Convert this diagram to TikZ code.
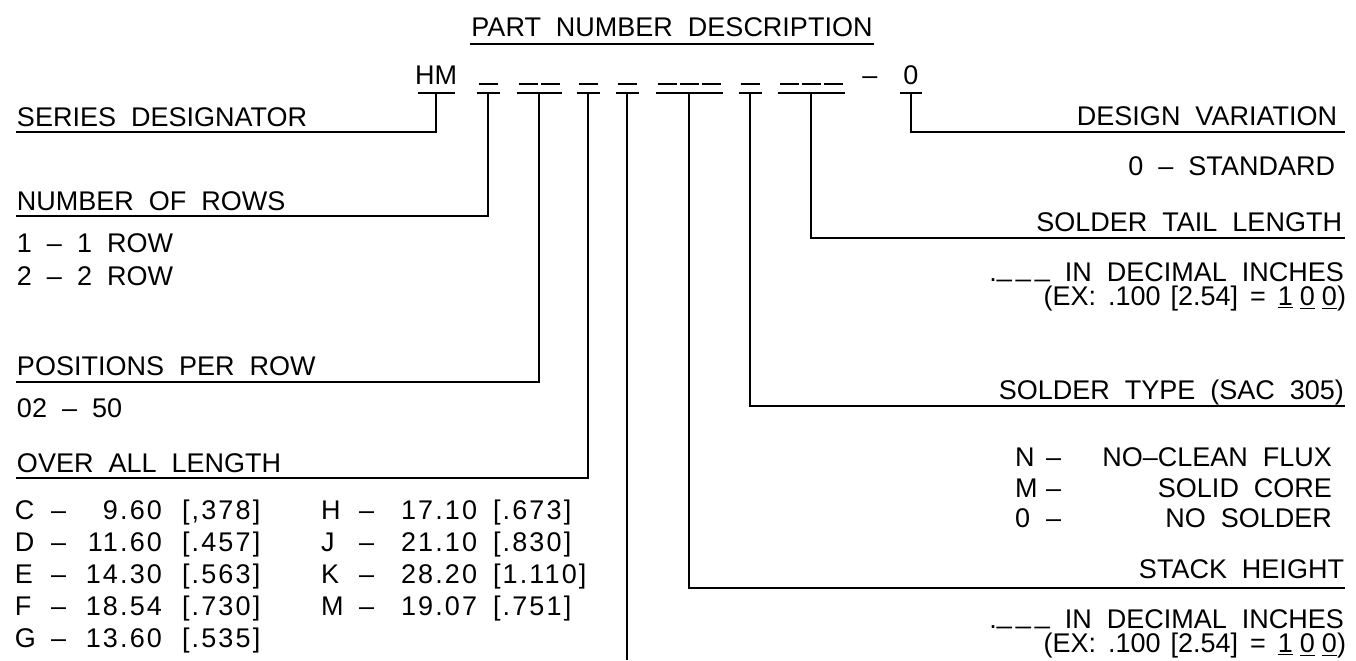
\documentclass[tikz,border=0pt]{standalone}
\usepackage{fontspec}
\setmainfont{Liberation Sans}[WordSpace=2.0]
\newcommand{\decnote}{.\raisebox{2.2pt}{\_}\hspace{2pt}\raisebox{2.2pt}{\_}\hspace{2pt}\raisebox{2.2pt}{\_} IN DECIMAL INCHES}
\newcommand{\exnote}{(EX:\hspace{6pt}.100\hspace{5pt}[2.54]\hspace{6pt}=\hspace{6pt}\underline{1}\hspace{3.5pt}\underline{0}\hspace{3.5pt}\underline{0})}
\begin{document}
\begin{tikzpicture}[x=0.5pt, y=-0.5pt, line width=1pt,
    txt/.style={inner sep=0pt, font=\fontsize{13.5}{16}\selectfont},
    lft/.style={txt, anchor=base west},
    rgt/.style={txt, anchor=base east},
    wide/.style={font=\fontsize{13.5}{16}\selectfont\addfontfeatures{LetterSpace=8}}]

    \useasboundingbox (0,0) rectangle (1356,660);

    % title
    \node[txt, anchor=base] (title) at (672,36) {PART NUMBER DESCRIPTION};
    \draw ([yshift=-4pt]title.base west) -- ([yshift=-4pt]title.base east);

    % part number
    \node[txt, anchor=base] (hm) at (436,84) {HM};
    \node[txt, anchor=base] (dash) at (870,84) {–};
    \node[txt, anchor=base] (var) at (911,84) {0};
    \draw (418,93) -- (455,93);
    \draw (900,93) -- (922,93);
    \coordinate (hmst) at (436,93);
    \coordinate (varst) at (911,93);

    \foreach \c/\n/\name in {488/1/rows, 539/2/pos, 588/1/len, 627/1/four,
                            689/3/stack, 750/1/type, 811/3/tail}{
        \pgfmathsetmacro{\s}{\c-(\n*19+(\n-1)*3)/2}
        \foreach \i in {1,...,\n}
            \draw ({\s+(\i-1)*22},84) -- ++(19,0);
        \draw ({\s-2},93) -- ({2*\c-\s+2},93);
        \coordinate (\name) at (\c,93);
    }

    % left side
    \node[lft] (series) at (16,126) {SERIES DESIGNATOR};
    \coordinate (series end) at (16,132);
    \draw (hmst) |- (series end);

    \node[lft] (nrows) at (16,210) {NUMBER OF ROWS};
    \coordinate (nrows end) at (16,216);
    \draw (rows) |- (nrows end);
    \node[lft] (row1) at (16,252) {1 – 1 ROW};
    \node[lft] (row2) at (16,285) {2 – 2 ROW};

    \node[lft] (ppr) at (16,375) {POSITIONS PER ROW};
    \coordinate (ppr end) at (16,382);
    \draw (pos) |- (ppr end);
    \node[lft] (prange) at (16,417) {02 – 50};

    \node[lft] (oal) at (16,472) {OVER ALL LENGTH};
    \coordinate (oal end) at (16,478);
    \draw (len) |- (oal end);

    \foreach \y/\k/\v/\b in {519/C/9.60/{[,378]}, 551/D/11.60/{[.457]},
                            583/E/14.30/{[.563]}, 615/F/18.54/{[.730]},
                            647/G/13.60/{[.535]}}{
        \node[lft] (oal\k) at (14,\y) {\k};
        \node[lft] (oal\k d) at (50,\y) {–};
        \node[rgt, wide] (oal\k n) at (163,\y) {\v};
        \node[lft, wide] (oal\k b) at (181,\y) {\b};
    }
    \foreach \y/\k/\v/\b in {519/H/17.10/{[.673]}, 551/J/21.10/{[.830]},
                            583/K/28.20/{[1.110]}, 615/M/19.07/{[.751]}}{
        \node[lft] (oal\k) at (320,\y) {\k};
        \node[lft] (oal\k d) at (358,\y) {–};
        \node[lft, wide] (oal\k n) at (400,\y) {\v};
        \node[lft, wide] (oal\k b) at (492,\y) {\b};
    }

    \coordinate (four end) at (627,660);
    \draw (four) -- (four end);

    % right side
    \node[rgt] (dv) at (1338,125) {DESIGN VARIATION};
    \coordinate (dv end) at (1345,132);
    \draw (varst) |- (dv end);
    \node[rgt] (std) at (1336,175) {0 – STANDARD};

    \node[rgt] (stl) at (1343,231) {SOLDER TAIL LENGTH};
    \coordinate (stl end) at (1345,238);
    \draw (tail) |- (stl end);
    \node[rgt] (stl1) at (1345,281) {\decnote};
    \node[rgt] (stl2) at (1347,305) {\exnote};

    \node[rgt] (sty) at (1345,399) {SOLDER TYPE (SAC 305)};
    \coordinate (sty end) at (1345,406);
    \draw (type) |- (sty end);
    \foreach \y/\k/\t in {466/N/NO–CLEAN FLUX, 497/M/SOLID CORE, 527/0/NO SOLDER}{
        \node[lft] (sty\k) at (1014,\y) {\k};
        \node[lft] (sty\k d) at (1045,\y) {–};
        \node[rgt] (sty\k t) at (1333,\y) {\t};
    }

    \node[rgt] (sh) at (1345,578) {STACK HEIGHT};
    \coordinate (sh end) at (1345,588);
    \draw (stack) |- (sh end);
    \node[rgt] (sh1) at (1345,628) {\decnote};
    \node[rgt] (sh2) at (1347,652) {\exnote};

\end{tikzpicture}
\end{document}
